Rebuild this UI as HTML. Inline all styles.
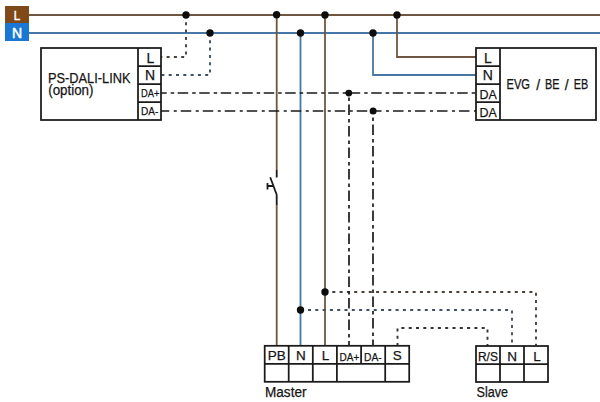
<!DOCTYPE html>
<html><head><meta charset="utf-8">
<style>
html,body{margin:0;padding:0;background:#fff;width:600px;height:402px;overflow:hidden}
svg{display:block}
text{font-family:"Liberation Sans",sans-serif;fill:#151515;stroke:#151515;stroke-width:0.25px}
</style></head>
<body>
<svg width="600" height="402" viewBox="0 0 600 402">
<!-- L / N label boxes -->
<rect x="5" y="6" width="24" height="17" fill="#80491a"/>
<rect x="5" y="23" width="24" height="18" fill="#1a78d4"/>
<text x="16.9" y="19.6" font-size="13.5" textLength="6.4" lengthAdjust="spacingAndGlyphs" text-anchor="middle" style="fill:#fff;stroke:#fff;stroke-width:0.5px">L</text>
<text x="17" y="37.8" font-size="14" text-anchor="middle" style="fill:#fff;stroke:#fff;stroke-width:0.5px">N</text>

<!-- main lines -->
<g fill="none" stroke-width="1.8">
<path d="M29 15H600" stroke="#705640"/>
<path d="M29 33H600" stroke="#4677a6"/>
<!-- vertical master lines -->
<path d="M276.7 15V170M276.7 205V346" stroke="#705640"/>
<path d="M325 15V346" stroke="#705640"/>
<path d="M300.5 33V346" stroke="#4677a6"/>
<!-- EVG feeds -->
<path d="M397 15V57H476" stroke="#705640"/>
<path d="M373 33V75H476" stroke="#4677a6"/>
</g>

<!-- dotted lines -->
<g fill="none" stroke-width="1.9" stroke-dasharray="3 4.3">
<path d="M186 15V57H161" stroke="#48403a"/>
<path d="M210 33V75H161" stroke="#3f5060"/>
<path d="M325 292H536V346" stroke="#48403a"/>
<path d="M300.7 310H512V346" stroke="#3f5060"/>
<path d="M397.5 346V328H487.5V346" stroke="#333"/>
</g>

<!-- dash-dot DALI lines -->
<g fill="none" stroke-width="1.7" stroke="#1a1a1a">
<path d="M161 93H476" stroke-dasharray="10.5 4 3.5 3.5" stroke-dashoffset="4.8"/>
<path d="M161 111H373" stroke-dasharray="10.5 4.5 3 4" stroke-dashoffset="2.25"/>
<path d="M373 111H476" stroke-dasharray="10.5 4.5 3 4" stroke-dashoffset="2"/>
<path d="M349 93V346" stroke-dasharray="10.5 4 3.5 3.5" stroke-dashoffset="10"/>
<path d="M373 111V346" stroke-dasharray="10.5 4 3.5 3.5" stroke-dashoffset="8"/>
</g>

<!-- switch -->
<g fill="none" stroke="#1a1a1a" stroke-width="1.8">
<path d="M276.8 195L270.2 177.2M276.7 170V177.4M276.7 195V205"/>
<path d="M267.5 186H273.3M267.5 183V189.5"/>
</g>

<!-- dots -->
<g fill="#0d0d0d">
<circle cx="186" cy="15" r="3.7"/>
<circle cx="276.6" cy="14.7" r="3.7"/>
<circle cx="325" cy="15" r="3.7"/>
<circle cx="397" cy="15" r="3.7"/>
<circle cx="210" cy="33" r="3.7"/>
<circle cx="300.5" cy="33" r="3.7"/>
<circle cx="373" cy="33" r="3.7"/>
<circle cx="348.8" cy="93.1" r="3.4"/>
<circle cx="373.1" cy="111" r="3.5"/>
<circle cx="325" cy="292" r="3.7"/>
<circle cx="300.5" cy="310" r="3.7"/>
</g>

<!-- boxes -->
<g fill="none" stroke="#1a1a1a" stroke-width="1.75">
<rect x="41" y="48" width="120" height="72"/>
<path d="M138 48V120M138 66H161M138 84H161M138 102H161"/>
<rect x="476" y="48" width="120" height="72"/>
<path d="M500 48V120M476 66H500M476 84H500M476 102H500"/>
<rect x="264.7" y="345.8" width="144.5" height="36"/>
<path d="M264.7 363.8H409.2M288.7 345.8V381.8M312.8 345.8V381.8M336.9 345.8V381.8M385.2 345.8V381.8M361.1 345.8V363.8"/>
<rect x="476" y="346" width="72" height="36"/>
<path d="M476 364H548M500 346V382M524 346V382"/>
</g>

<!-- texts -->
<text x="48" y="83.3" font-size="14" textLength="82.5" lengthAdjust="spacingAndGlyphs">PS-DALI-LINK</text>
<text x="48.2" y="94.7" font-size="14" textLength="45.3" lengthAdjust="spacingAndGlyphs">(option)</text>
<text x="506.5" y="89.4" font-size="14" textLength="23.5" lengthAdjust="spacingAndGlyphs">EVG</text>
<text x="536.2" y="89.6" font-size="14">/</text>
<text x="545" y="89.4" font-size="14" textLength="14.5" lengthAdjust="spacingAndGlyphs">BE</text>
<text x="564.8" y="89.6" font-size="14">/</text>
<text x="573.8" y="89.4" font-size="14" textLength="14.5" lengthAdjust="spacingAndGlyphs">EB</text>

<g font-size="14" text-anchor="middle">
<text x="150.4" y="62.9">L</text>
<text x="150.1" y="80.2">N</text>
<text x="488" y="62.9">L</text>
<text x="487.7" y="80.2">N</text>
</g>
<g font-size="13.5" text-anchor="middle">
<text x="276.8" y="360.2">PB</text>
<text x="300.9" y="360.2">N</text>
<text x="325.6" y="360.4">L</text>
<text x="397.3" y="360.3">S</text>
<text x="512" y="360.5">N</text>
<text x="537" y="360.5">L</text>
</g>
<g font-size="13.5">
<text x="479.5" y="98.7" textLength="17.3" lengthAdjust="spacingAndGlyphs">DA</text>
<text x="479.5" y="116.6" textLength="17.3" lengthAdjust="spacingAndGlyphs">DA</text>
</g>
<g font-size="11">
<text x="141" y="96.7" textLength="18.4" lengthAdjust="spacingAndGlyphs">DA+</text>
<text x="141" y="114.6" textLength="17.3" lengthAdjust="spacingAndGlyphs">DA-</text>
</g>
<g font-size="11.5">
<text x="339.6" y="360.6" textLength="19.7" lengthAdjust="spacingAndGlyphs">DA+</text>
<text x="364" y="360.6" textLength="17.7" lengthAdjust="spacingAndGlyphs">DA-</text>
<text x="477.9" y="360.5" font-size="12.3" textLength="20" lengthAdjust="spacingAndGlyphs">R/S</text>
</g>
<text x="265" y="396.9" font-size="13.8" textLength="41.5" lengthAdjust="spacingAndGlyphs">Master</text>
<text x="476.6" y="396.9" font-size="13.8" textLength="31.5" lengthAdjust="spacingAndGlyphs">Slave</text>
</svg>
</body></html>
